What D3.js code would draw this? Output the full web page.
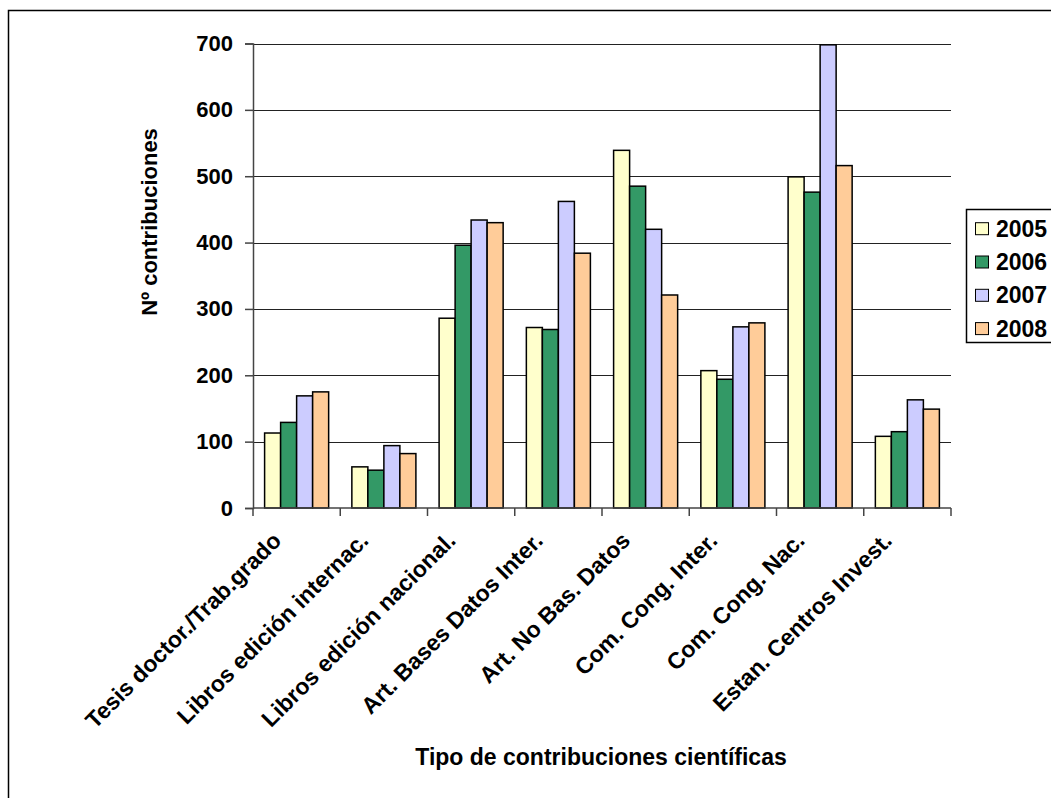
<!DOCTYPE html>
<html>
<head>
<meta charset="utf-8">
<script src="https://cdn.jsdelivr.net/npm/d3@7"></script>
<style>
  body { margin: 0; background: #fff; }
  svg text { font-family: "Liberation Sans", Arial, sans-serif; font-weight: bold; fill: #000; }
</style>
</head>
<body>
<svg id="chart"></svg>
<script>
var categories = ["Tesis doctor./Trab.grado", "Libros edición internac.", "Libros edición nacional.",
  "Art. Bases Datos Inter.", "Art. No Bas. Datos", "Com. Cong. Inter.", "Com. Cong. Nac.", "Estan. Centros Invest."];
var years = ["2005", "2006", "2007", "2008"];
var v2005 = [113, 62, 286, 272, 539, 207, 499, 108];
var v2006 = [129, 57, 396, 269, 485, 194, 476, 115];
var v2007 = [169, 94, 434, 462, 420, 273, 698, 163];
var v2008 = [175, 82, 430, 384, 321, 279, 516, 149];
var yTicks = [0, 100, 200, 300, 400, 500, 600, 700];
var colors = ["#FFFFCC", "#339966", "#CCCCFF", "#FFCC99"];

var series = [v2005, v2006, v2007, v2008];
var svgW = 1051, svgH = 798;
var plotL = 253, plotR = 951, plotT = 43.5, plotB = 508;

var svg = d3.select("#chart").attr("width", svgW).attr("height", svgH);

// outer chart frame
svg.append("rect").attr("x", 8.5).attr("y", 10.5).attr("width", 1060).attr("height", 800)
  .attr("fill", "#fff").attr("stroke", "#000").attr("stroke-width", 1.5);

var x0 = d3.scaleBand().domain(categories).range([plotL, plotR]).paddingInner(0.266).paddingOuter(0.133);
var x1 = d3.scaleBand().domain(years).range([0, x0.bandwidth()]);
var y = d3.scaleLinear().domain([0, 700]).range([plotB, plotT]);

// gridlines
svg.append("g").selectAll("line").data(yTicks.slice(1)).enter().append("line")
  .attr("x1", plotL).attr("x2", plotR)
  .attr("y1", function(d) { return Math.round(y(d)) + 0.5; })
  .attr("y2", function(d) { return Math.round(y(d)) + 0.5; })
  .attr("stroke", "#222").attr("stroke-width", 1);

// y axis
var yAxis = svg.append("g").attr("transform", "translate(" + plotL + ",0)")
  .call(d3.axisLeft(y).tickValues(yTicks).tickSize(8).tickPadding(12));
yAxis.select(".domain").attr("stroke", "#444").attr("stroke-width", 1.5);
yAxis.selectAll(".tick line").attr("stroke", "#444").attr("stroke-width", 1.5);
yAxis.selectAll("text").style("font-size", "22px").style("font-family", "Liberation Sans, Arial").style("font-weight", "bold");

// bars
var groups = svg.append("g").selectAll("g").data(categories).enter().append("g")
  .attr("transform", function(d) { return "translate(" + x0(d) + ",0)"; });
groups.selectAll("rect").data(function(d, i) {
    return years.map(function(yr, j) { return { year: yr, value: series[j][i], k: j }; });
  }).enter().append("rect")
  .attr("x", function(d) { return x1(d.year); })
  .attr("y", function(d) { return y(d.value); })
  .attr("width", x1.bandwidth())
  .attr("height", function(d) { return plotB - y(d.value); })
  .attr("fill", function(d) { return colors[d.k]; })
  .attr("stroke", "#000").attr("stroke-width", 1.5);

// x axis baseline and ticks between categories
svg.append("line").attr("x1", plotL).attr("x2", plotR).attr("y1", plotB).attr("y2", plotB)
  .attr("stroke", "#444").attr("stroke-width", 1.5);
var step = (plotR - plotL) / categories.length;
svg.append("g").selectAll("line").data(d3.range(categories.length + 1)).enter().append("line")
  .attr("x1", function(i) { return plotL + i * step; }).attr("x2", function(i) { return plotL + i * step; })
  .attr("y1", plotB).attr("y2", plotB + 8).attr("stroke", "#444").attr("stroke-width", 1.5);

// category labels
svg.append("g").selectAll("text").data(categories).enter().append("text")
  .attr("transform", function(d) {
    return "translate(" + (x0(d) + x0.bandwidth() / 2 - 14) + "," + (plotB + 34) + ") rotate(-45)";
  })
  .attr("text-anchor", "end").style("font-size", "23px").text(function(d) { return d; });

// axis titles
svg.append("text").attr("transform", "translate(157,222) rotate(-90)").attr("text-anchor", "middle")
  .style("font-size", "22px").text("Nº contribuciones");
svg.append("text").attr("x", 601).attr("y", 765).attr("text-anchor", "middle")
  .style("font-size", "23px").text("Tipo de contribuciones científicas");

// legend
var lg = svg.append("g");
lg.append("rect").attr("x", 966.5).attr("y", 209.5).attr("width", 100).attr("height", 133)
  .attr("fill", "#fff").attr("stroke", "#000").attr("stroke-width", 1.5);
var items = lg.selectAll("g").data(years).enter().append("g")
  .attr("transform", function(d, i) { return "translate(975," + (228.7 + i * 33.3) + ")"; });
items.append("rect").attr("x", 0.5).attr("y", -6).attr("width", 13).attr("height", 12)
  .attr("fill", function(d, i) { return colors[i]; }).attr("stroke", "#000").attr("stroke-width", 1);
items.append("text").attr("x", 21).attr("y", 8).style("font-size", "23px").text(function(d) { return d; });
</script>
</body>
</html>
